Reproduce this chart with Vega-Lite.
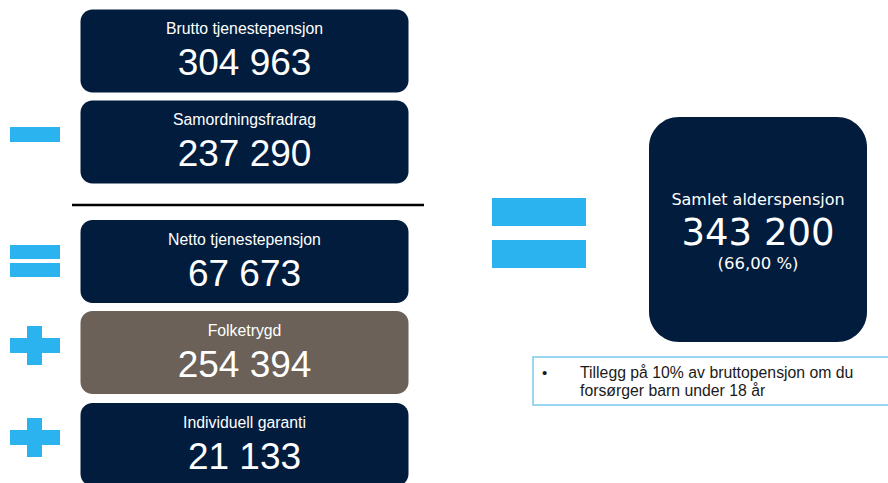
{
  "$schema": "https://vega.github.io/schema/vega-lite/v6.json",
  "width": 888,
  "height": 483,
  "autosize": {"type": "fit", "contains": "padding"},
  "padding": 0,
  "background": "#ffffff",
  "config": {
    "view": {"stroke": null},
    "locale": {"number": {"decimal": ",", "thousands": " ", "grouping": [3], "currency": ["", " kr"]}}
  },
  "datasets": {
    "steps": [
      {"row": 1, "label": "Brutto tjenestepensjon", "amount": 304963, "kind": "tjenestepensjon", "op": "none"},
      {"row": 2, "label": "Samordningsfradrag", "amount": 237290, "kind": "tjenestepensjon", "op": "minus"},
      {"row": 3, "label": "Netto tjenestepensjon", "amount": 67673, "kind": "tjenestepensjon", "op": "equals"},
      {"row": 4, "label": "Folketrygd", "amount": 254394, "kind": "folketrygd", "op": "plus"},
      {"row": 5, "label": "Individuell garanti", "amount": 21133, "kind": "tjenestepensjon", "op": "plus"}
    ],
    "total": [
      {"label": "Samlet alderspensjon", "amount": 343200, "share": "(66,00 %)"}
    ],
    "note": [
      {"bullet": "•", "lines": ["Tillegg på 10% av bruttopensjon om du", "forsørger barn under 18 år"]}
    ],
    "divider": [{"item": "divider"}]
  },
  "layer": [
    {
      "data": {"name": "steps"},
      "layer": [
        {
          "mark": {"type": "rect", "width": 328, "height": 83, "cornerRadius": 12},
          "encoding": {
            "x": {"datum": 1, "type": "quantitative", "scale": {"domain": [0, 1, 2, 3], "range": [35, 244.5, 539, 758], "zero": false, "nice": false}, "axis": null},
            "y": {"field": "row", "type": "quantitative", "scale": {"domain": [1, 2, 2.5, 3, 4, 5], "range": [51, 142, 205, 261.5, 352.5, 444.5], "zero": false, "nice": false}, "axis": null},
            "color": {"field": "kind", "type": "nominal", "scale": {"domain": ["tjenestepensjon", "folketrygd"], "range": ["#021c3d", "#6b6158"]}, "legend": null}
          }
        },
        {
          "data": {"name": "divider"},
          "mark": {"type": "rect", "width": 352, "height": 2.5, "xOffset": 3.5, "color": "#000000"},
          "encoding": {
            "x": {"datum": 1, "type": "quantitative", "scale": {"domain": [0, 1, 2, 3], "range": [35, 244.5, 539, 758], "zero": false, "nice": false}, "axis": null},
            "y": {"datum": 2.5, "type": "quantitative", "axis": null}
          }
        },
        {
          "transform": [{"filter": {"field": "op", "oneOf": ["minus", "equals", "plus"]}}],
          "mark": {"type": "point", "filled": true, "size": 2500, "opacity": 1, "strokeWidth": 0, "color": "#2ab3ee"},
          "encoding": {
            "x": {"datum": 0, "type": "quantitative", "scale": {"domain": [0, 1, 2, 3], "range": [35, 244.5, 539, 758], "zero": false, "nice": false}, "axis": null},
            "y": {"field": "row", "type": "quantitative", "axis": null},
            "shape": {"field": "op", "type": "nominal", "scale": {"domain": ["minus", "equals", "plus"], "range": ["M-1,-0.6H1V0H-1Z", "M-1,-0.66H1V-0.1H-1Z M-1,0.06H1V0.62H-1Z", "M-1,-0.58H-0.32V-1.06H0.28V-0.58H1V0.02H0.28V0.5H-0.32V0.02H-1Z"]}, "legend": null}
          }
        },
        {
          "mark": {"type": "text", "font": "Liberation Sans", "fontSize": 15.8, "color": "#ffffff", "align": "center", "baseline": "alphabetic", "dy": -17},
          "encoding": {
            "x": {"datum": 1, "type": "quantitative", "scale": {"domain": [0, 1, 2, 3], "range": [35, 244.5, 539, 758], "zero": false, "nice": false}, "axis": null},
            "y": {"field": "row", "type": "quantitative", "axis": null},
            "text": {"field": "label", "type": "nominal"}
          }
        },
        {
          "mark": {"type": "text", "font": "Liberation Sans", "fontSize": 37, "color": "#ffffff", "align": "center", "baseline": "alphabetic", "dy": 24},
          "encoding": {
            "x": {"datum": 1, "type": "quantitative", "scale": {"domain": [0, 1, 2, 3], "range": [35, 244.5, 539, 758], "zero": false, "nice": false}, "axis": null},
            "y": {"field": "row", "type": "quantitative", "axis": null},
            "text": {"field": "amount", "type": "quantitative", "format": ",d"}
          }
        }
      ]
    },
    {
      "data": {"name": "total"},
      "layer": [
        {
          "mark": {"type": "rect", "width": 218, "height": 225, "cornerRadius": 30, "color": "#021c3d"},
          "encoding": {
            "x": {"datum": 3, "type": "quantitative", "scale": {"domain": [0, 1, 2, 3], "range": [35, 244.5, 539, 758], "zero": false, "nice": false}, "axis": null},
            "y": {"datum": 1, "type": "quantitative", "scale": {"domain": [1, 2], "range": [229.5, 381], "zero": false, "nice": false}, "axis": null}
          }
        },
        {
          "mark": {"type": "point", "filled": true, "size": 8836, "opacity": 1, "strokeWidth": 0, "color": "#2ab3ee", "shape": "M-1,-0.67H1V-0.074H-1Z M-1,0.223H1V0.819H-1Z"},
          "encoding": {
            "x": {"datum": 2, "type": "quantitative", "scale": {"domain": [0, 1, 2, 3], "range": [35, 244.5, 539, 758], "zero": false, "nice": false}, "axis": null},
            "y": {"datum": 1, "type": "quantitative", "axis": null}
          }
        },
        {
          "mark": {"type": "text", "font": "DejaVu Sans", "fontSize": 16, "color": "#ffffff", "align": "center", "baseline": "alphabetic", "dy": -25},
          "encoding": {
            "x": {"datum": 3, "type": "quantitative", "scale": {"domain": [0, 1, 2, 3], "range": [35, 244.5, 539, 758], "zero": false, "nice": false}, "axis": null},
            "y": {"datum": 1, "type": "quantitative", "axis": null},
            "text": {"field": "label", "type": "nominal"}
          }
        },
        {
          "mark": {"type": "text", "font": "DejaVu Sans", "fontSize": 37, "color": "#ffffff", "align": "center", "baseline": "alphabetic", "dy": 15},
          "encoding": {
            "x": {"datum": 3, "type": "quantitative", "scale": {"domain": [0, 1, 2, 3], "range": [35, 244.5, 539, 758], "zero": false, "nice": false}, "axis": null},
            "y": {"datum": 1, "type": "quantitative", "axis": null},
            "text": {"field": "amount", "type": "quantitative", "format": ",d"}
          }
        },
        {
          "mark": {"type": "text", "font": "DejaVu Sans", "fontSize": 16.5, "color": "#ffffff", "align": "center", "baseline": "alphabetic", "dy": 39.5},
          "encoding": {
            "x": {"datum": 3, "type": "quantitative", "scale": {"domain": [0, 1, 2, 3], "range": [35, 244.5, 539, 758], "zero": false, "nice": false}, "axis": null},
            "y": {"datum": 1, "type": "quantitative", "axis": null},
            "text": {"field": "share", "type": "nominal"}
          }
        },
        {
          "data": {"name": "note"},
          "mark": {"type": "rect", "width": 450, "height": 48, "fill": "#ffffff", "stroke": "#7ccaee", "strokeWidth": 1.5},
          "encoding": {
            "x": {"datum": 3, "type": "quantitative", "scale": {"domain": [0, 1, 2, 3], "range": [35, 244.5, 539, 758], "zero": false, "nice": false}, "axis": null},
            "y": {"datum": 2, "type": "quantitative", "axis": null}
          }
        },
        {
          "data": {"name": "note"},
          "mark": {"type": "text", "font": "Liberation Sans", "fontSize": 15.8, "color": "#1a1a1a", "align": "left", "baseline": "alphabetic", "dx": -178, "dy": -3.3, "lineHeight": 18.5},
          "encoding": {
            "x": {"datum": 3, "type": "quantitative", "scale": {"domain": [0, 1, 2, 3], "range": [35, 244.5, 539, 758], "zero": false, "nice": false}, "axis": null},
            "y": {"datum": 2, "type": "quantitative", "axis": null},
            "text": {"field": "lines"}
          }
        },
        {
          "data": {"name": "note"},
          "mark": {"type": "text", "font": "Liberation Sans", "fontSize": 15, "color": "#1a1a1a", "align": "left", "baseline": "alphabetic", "dx": -216, "dy": -3.3},
          "encoding": {
            "x": {"datum": 3, "type": "quantitative", "scale": {"domain": [0, 1, 2, 3], "range": [35, 244.5, 539, 758], "zero": false, "nice": false}, "axis": null},
            "y": {"datum": 2, "type": "quantitative", "axis": null},
            "text": {"field": "bullet", "type": "nominal"}
          }
        }
      ]
    }
  ],
  "resolve": {"scale": {"y": "independent"}}
}
